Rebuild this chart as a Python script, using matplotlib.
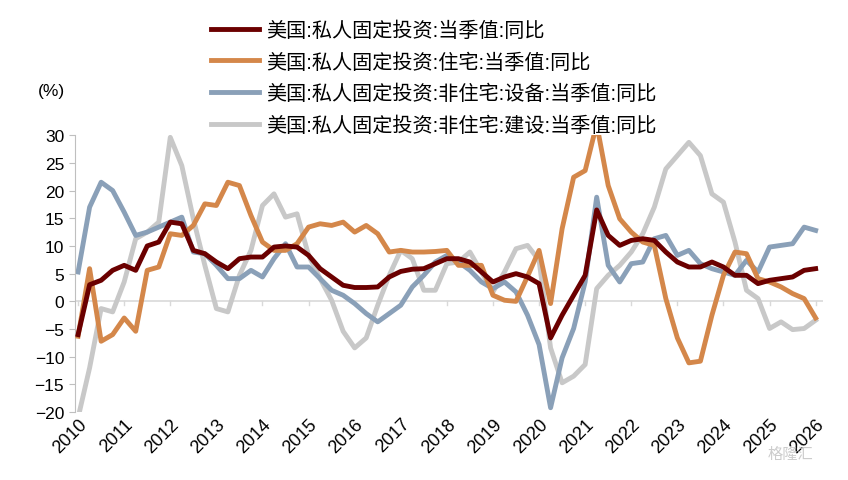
import numpy as np
import matplotlib.pyplot as plt

plt.rcParams['font.family'] = ['Liberation Sans', 'Noto Sans CJK SC', 'DejaVu Sans']

# quarterly, 2010Q1 .. 2026Q1
years = [str(y) for y in range(2010, 2027)]

total = [-6, 3, 3.8, 5.6, 6.5, 5.6, 10, 10.7, 14.3, 14, 9.2, 8.6, 7.1, 5.9, 7.7, 8,
         8, 9.8, 10, 9.8, 8.3, 5.9, 4.4, 2.9, 2.5, 2.5, 2.6, 4.4, 5.4, 5.8, 5.9, 6.8,
         7.7, 7.7, 7.1, 5.3, 3.5, 4.4, 5, 4.4, 3.2, -6.6, -2.5, 1.1, 4.7, 16.5, 11.9, 10.1,
         11, 11.3, 11, 8.9, 7.1, 6.2, 6.2, 7.1, 6.2, 4.7, 4.7, 3.2, 3.8, 4.1, 4.4, 5.6, 5.9]
residential = [-6.3, 5.9, -7.2, -6, -3, -5.4, 5.6, 6.2, 12.2, 11.9, 13.7, 17.6, 17.3, 21.5, 20.9, 15.5,
               10.7, 9.2, 9.2, 10.4, 13.4, 14, 13.7, 14.3, 12.5, 13.7, 12.2, 8.9, 9.2, 8.9, 8.9, 9,
               9.2, 6.5, 6.5, 6.5, 1.1, 0.2, 0, 4.5, 9.2, -0.4, 13.1, 22.4, 23.6, 32, 20.9, 14.9,
               12.5, 10.7, 10.1, 0.5, -6.6, -11.1, -10.8, -2.5, 4.7, 8.9, 8.6, 4.1, 3.5, 2.6, 1.4, 0.5, -3]
equipment = [5.3, 17, 21.5, 20, 16.1, 11.9, 12.5, 13.4, 14.3, 15.2, 8.9, 8.6, 6.5, 4.1, 4.1, 5.6,
             4.4, 7.7, 10.4, 6.2, 6.2, 4.1, 2, 1.1, -0.4, -2.2, -3.7, -2.2, -0.7, 2.6, 4.7, 7.1,
             8.3, 7.1, 5.6, 3.5, 2.3, 3.5, 1.7, -2.5, -7.8, -19.2, -10.2, -4.9, 3.5, 18.8, 6.5, 3.5,
             6.8, 7.1, 11.3, 11.9, 8.3, 9.2, 6.8, 5.9, 5.3, 4.7, 7.4, 5.3, 9.8, 10.1, 10.4, 13.4, 12.8]
structures = [-21, -12, -1.3, -1.9, 3.5, 11.3, 12.5, 14.3, 29.6, 24.5, 14.9, 6.5, -1.3, -1.9, 4.7, 9.2,
              17.3, 19.4, 15.2, 15.8, 8.3, 4.1, 0.2, -5.4, -8.4, -6.6, -0.7, 4.7, 9.2, 7.7, 2, 2,
              6.8, 7.1, 8.9, 5.3, 1.7, 5.3, 9.5, 10.1, 7.4, -8.4, -14.7, -13.5, -11.4, 2.3, 4.7, 6.5,
              8.9, 12.2, 17, 23.9, 26.3, 28.7, 26.3, 19.4, 17.9, 10.7, 2, 0.5, -4.9, -3.7, -5.1, -4.9, -3.4]

labels = ['美国:私人固定投资:当季值:同比',
          '美国:私人固定投资:住宅:当季值:同比',
          '美国:私人固定投资:非住宅:设备:当季值:同比',
          '美国:私人固定投资:非住宅:建设:当季值:同比']
colors = ['#6b0000', '#d4874a', '#8aa0b8', '#c8c8c8']
series = [total, residential, equipment, structures]

fig = plt.figure(figsize=(8.48, 4.81), dpi=100)
ax = fig.add_axes([0.088, 0.141, 0.882, 0.576])

x = np.arange(len(total))
handles = []
for s, c, lab in zip(series, colors, labels):
    h, = ax.plot(x, s, color=c, lw=3.5, label=lab, solid_joinstyle='round')
    handles.append(h)
for h, z in zip(handles, [4, 3, 2, 1]):
    h.set_zorder(z)

ax.set_ylim(-20, 30)
ax.set_xlim(-0.3, 64.6)
ax.set_yticks(range(-20, 31, 5))
ax.set_xticks(range(0, 65, 4))
ax.set_xticklabels(years, rotation=45, ha='right', rotation_mode='anchor')

for sp in ['top', 'right', 'bottom']:
    ax.spines[sp].set_visible(False)
ax.spines['left'].set_color('#bfbfbf')
ax.axhline(0, color='#d9d9d9', lw=1.2, zorder=0)
ax.tick_params(axis='y', colors='#bfbfbf', labelcolor='black', labelsize=12.5, length=4)
ax.tick_params(axis='x', length=0, labelsize=13, pad=2)
for lab in ax.get_xticklabels():
    lab.set_x(0)
for t in range(0, 65, 4):
    ax.plot([t, t], [0, -0.7], color='#d9d9d9', lw=1, zorder=0)

fig.text(0.045, 0.80, '(%)', fontsize=12.5)

fig.legend(handles=handles, labels=labels, loc='upper left', bbox_to_anchor=(0.232, 0.985),
           frameon=False, fontsize=14.5, handlelength=2.4, labelspacing=0.62, handletextpad=0.35,
           borderaxespad=0.3)

fig.text(0.905, 0.045, '格隆汇', fontsize=11, color='#cccccc')

fig.savefig('out.png', dpi=100)
